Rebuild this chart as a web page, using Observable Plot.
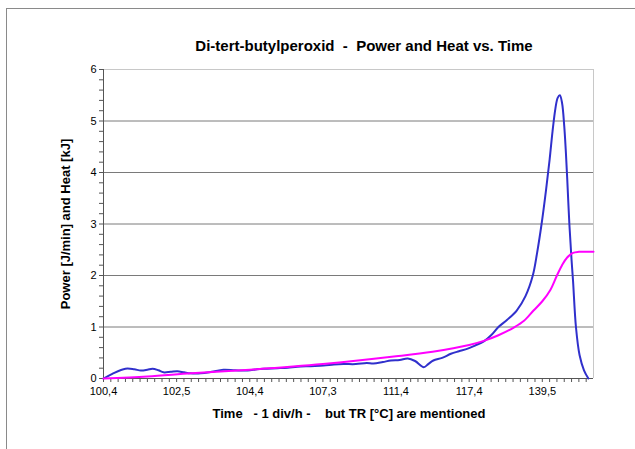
<!DOCTYPE html>
<html><head><meta charset="utf-8">
<script src="https://cdn.jsdelivr.net/npm/d3@7"></script>
<script src="https://cdn.jsdelivr.net/npm/@observablehq/plot@0.6"></script>
<style>
body{margin:0;background:#fff;}
#wrap{position:relative;width:635px;height:449px;overflow:hidden;font-family:Arial,"Liberation Sans",sans-serif;color:#000;}
#frame{position:absolute;left:6px;top:8px;width:800px;height:600px;border-left:1px solid #8a8a8a;border-top:1px solid #8a8a8a;}
.lbl{position:absolute;white-space:pre;font-weight:bold;transform:translate(-50%,-50%);}
#title{left:364px;top:45px;font-size:15px;}
#xt{left:349px;top:413px;font-size:13px;}
#yt{left:65px;top:224px;font-size:13px;transform:translate(-50%,-50%) rotate(-90deg);}
#chart{position:absolute;left:0;top:0;}
</style></head>
<body>
<div id="wrap">
  <div id="frame"></div>
  <div id="chart"></div>
  <div class="lbl" id="title">Di-tert-butylperoxid  -  Power and Heat vs. Time</div>
  <div class="lbl" id="xt">Time   - 1 div/h -    but TR [°C] are mentioned</div>
  <div class="lbl" id="yt">Power [J/min] and Heat [kJ]</div>
</div>
<script>
// time in hours (1 div = 1 h); tick labels are reactor temperatures
const xTickHours = [0, 10, 20, 30, 40, 50, 60];
const xTickLabels = ["100,4", "102,5", "104,4", "107,3", "111,4", "117,4", "139,5"];
const yTicks = [0, 1, 2, 3, 4, 5, 6];

// Power [J/min]
const powerHours = [0, 1.2, 3.0, 4.2, 5.1, 6.0, 6.7, 7.5, 8.2, 9.2, 10.1, 11.0, 11.9, 13.3, 14.8, 16.4, 18.0, 19.7, 21.0, 21.9, 23.8, 25.2, 26.5, 28.3, 30.1, 31.5, 32.8, 34.5, 36.0, 36.9, 38.2, 39.3, 40.5, 41.6, 42.6, 43.8, 44.4, 45.1, 46.3, 47.5, 48.6, 49.8, 50.8, 52.0, 53.0, 54.0, 55.2, 56.5, 57.7, 58.7, 59.3, 59.9, 60.5, 61.0, 61.4, 61.8, 62.1, 62.4, 62.7, 63.0, 63.2, 63.4, 63.7, 64.0, 64.2, 64.6, 65.1, 65.7, 66.3];
const powerValues = [0, 0.09, 0.19, 0.18, 0.155, 0.17, 0.19, 0.16, 0.12, 0.13, 0.14, 0.12, 0.10, 0.10, 0.13, 0.17, 0.16, 0.155, 0.18, 0.19, 0.20, 0.21, 0.23, 0.24, 0.25, 0.27, 0.28, 0.28, 0.30, 0.29, 0.32, 0.35, 0.36, 0.39, 0.34, 0.22, 0.28, 0.35, 0.40, 0.48, 0.53, 0.58, 0.64, 0.72, 0.84, 1.0, 1.14, 1.32, 1.6, 2.0, 2.45, 3.0, 3.65, 4.25, 4.8, 5.25, 5.45, 5.5, 5.35, 4.9, 4.45, 3.9, 3.0, 2.3, 1.9, 1.0, 0.45, 0.16, 0];

// Heat [kJ]
const heatHours = [0, 6, 12, 20, 30, 40, 45, 50, 52, 54, 56.1, 57.5, 58.8, 60, 61.1, 62, 62.7, 63.4, 64.2, 65, 67];
const heatValues = [0, 0.04, 0.10, 0.17, 0.28, 0.43, 0.52, 0.65, 0.73, 0.84, 0.99, 1.12, 1.32, 1.5, 1.72, 2.0, 2.2, 2.35, 2.44, 2.46, 2.46];

const power = powerHours.map((h, i) => ({h, v: powerValues[i]}));
const heat = heatHours.map((h, i) => ({h, v: heatValues[i]}));

const chart = Plot.plot({
  width: 635, height: 449,
  marginLeft: 103, marginRight: 42, marginTop: 69, marginBottom: 71,
  style: {fontFamily: "Arial, 'Liberation Sans', sans-serif", fontSize: "11px", background: "transparent", color: "#000", overflow: "visible"},
  x: {domain: [0, 67], axis: null},
  y: {domain: [0, 6], axis: null},
  marks: [
    Plot.gridY([1, 2, 3, 4, 5], {stroke: "#7a7a7a", strokeOpacity: 1}),
    Plot.ruleY([6], {stroke: "#c8c8c8"}),
    Plot.ruleX([67], {stroke: "#c8c8c8"}),
    Plot.axisY({ticks: d3.range(0, 31).map(i => i * 0.2), tickSize: 4, tickFormat: () => "", stroke: "#555", label: null}),
    Plot.axisY({ticks: yTicks, tickSize: 0, tickPadding: 7, fontSize: 11, tickFormat: d => String(d), label: null}),
    Plot.axisX({ticks: d3.range(0, 67), tickSize: 4, tickFormat: () => "", stroke: "#555", label: null}),
    Plot.axisX({ticks: xTickHours, tickSize: 0, tickPadding: 9, fontSize: 11, label: null,
      tickFormat: d => xTickLabels[xTickHours.indexOf(d)]}),
    Plot.ruleX([0], {stroke: "#555"}),
    Plot.ruleY([0], {stroke: "#555"}),
    Plot.line(power, {x: "h", y: "v", stroke: "#3030cc", strokeWidth: 2, curve: "catmull-rom"}),
    Plot.line(heat, {x: "h", y: "v", stroke: "#ff00ff", strokeWidth: 2, curve: "catmull-rom"})
  ]
});
document.getElementById("chart").appendChild(chart);
</script>
</body></html>
